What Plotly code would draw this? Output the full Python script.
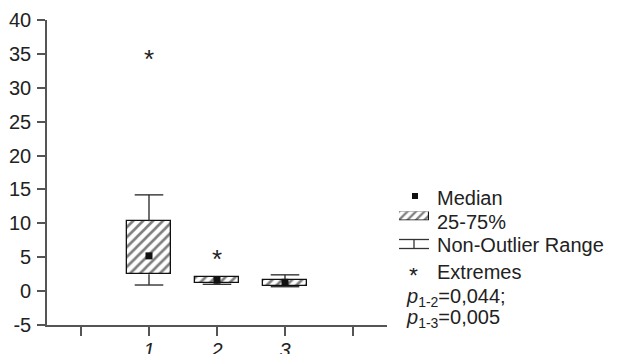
import plotly.graph_objects as go

groups = [1, 2, 3]
group_labels = ["1", "2", "3"]
q1 = [2.5, 1.15, 0.75]
median = [5.2, 1.6, 1.3]
q3 = [10.3, 2.1, 1.65]
low_w = [0.9, 1.0, 0.65]
high_w = [14.2, 2.1, 2.4]
extreme_x = [1, 2]
extreme_y = [34.8, 5.3]
yticks = [-5, 0, 5, 10, 15, 20, 25, 30, 35, 40]
ytick_text = ["-5", "0", "5", "10", "15", "20", "25", "30", "35", "40"]
edge_ticks = [0, 4]

W, H = 618, 354
L, R, T, B = 47, 0, 20, 29
PW, PH = W - L - R, H - T - B
AXIS_END = 387

def px(x):
    return (x - L) / PW

def py(y):
    return (H - B - y) / PH

FAM = "Liberation Sans, Arial, sans-serif"
font = dict(family=FAM, size=20, color="#222")
star_font = dict(family=FAM, size=26, color="#222")

fig = go.Figure()

# boxes (25-75%)
fig.add_trace(go.Bar(
    x=groups, y=[b - a for a, b in zip(q1, q3)], base=q1, width=0.66,
    marker=dict(color="white", line=dict(color="#111", width=1.3),
                pattern=dict(shape="/", fgcolor="#000", bgcolor="white", size=7, solidity=0.38)),
    showlegend=False, hoverinfo="skip"))

# whiskers
cap = 0.21
wx, wy = [], []
for g, a, b, lo, hi in zip(groups, q1, q3, low_w, high_w):
    if hi > b:
        wx += [g, g, None, g - cap, g + cap, None]
        wy += [b, hi, None, hi, hi, None]
    if lo < a:
        wx += [g, g, None, g - cap, g + cap, None]
        wy += [a, lo, None, lo, lo, None]
fig.add_trace(go.Scatter(x=wx, y=wy, mode="lines", line=dict(color="#333", width=1.4),
                         showlegend=False, hoverinfo="skip"))

# medians
fig.add_trace(go.Scatter(x=groups, y=median, mode="markers",
                         marker=dict(symbol="square", size=7, color="#111"),
                         showlegend=False, hoverinfo="skip"))

ann = []
# extremes
for ex, ey in zip(extreme_x, extreme_y):
    ann.append(dict(x=ex, y=ey, xref="x", yref="y", text="*", showarrow=False,
                    xanchor="center", yanchor="middle", yshift=-4, height=18,
                    font=star_font))

fig.update_layout(
    width=W, height=H, margin=dict(l=L, r=R, t=T, b=B),
    plot_bgcolor="white", paper_bgcolor="white", font=font, bargap=0,
    xaxis=dict(domain=[0, px(AXIS_END)], range=[-0.5, 4.5], tickvals=groups,
               ticktext=["<i>%s</i>" % t for t in group_labels],
               showgrid=False, zeroline=False, showline=True, linecolor="#555", linewidth=1.6,
               ticks="outside", ticklen=9, tickcolor="#555", tickwidth=1.5,
               minor=dict(tickvals=edge_ticks, ticks="outside", ticklen=9, tickcolor="#555",
                          tickwidth=1.5, showgrid=False),
               ticklabelstandoff=-3, automargin=False, fixedrange=True),
    yaxis=dict(range=[-5, 40], tickvals=yticks, ticktext=ytick_text, showgrid=False,
               zeroline=False, showline=True, linecolor="#555", linewidth=1.6,
               ticks="outside", ticklen=8, tickcolor="#555", tickwidth=1.5,
               ticklabelstandoff=2, automargin=False, fixedrange=True),
)

# custom legend
shapes = []
shapes.append(dict(type="rect", xref="paper", yref="paper",
                   x0=px(412), x1=px(418), y0=py(199), y1=py(193),
                   fillcolor="#111", line=dict(width=0)))
# hatched box symbol on its own small axes
fig.add_trace(go.Bar(
    x=[0.5], y=[1], base=[0], width=1, xaxis="x2", yaxis="y2",
    marker=dict(color="white", line=dict(color="#111", width=1.1),
                pattern=dict(shape="/", fgcolor="#000", bgcolor="white", size=6, solidity=0.38)),
    showlegend=False, hoverinfo="skip"))
fig.update_layout(
    xaxis2=dict(domain=[px(399), px(429)], range=[0, 1], anchor="y2", visible=False, fixedrange=True),
    yaxis2=dict(domain=[py(220.5), py(211.5)], range=[0, 1], anchor="x2", visible=False, fixedrange=True),
)
# non-outlier symbol
shapes += [
    dict(type="line", xref="paper", yref="paper", x0=px(399), x1=px(429), y0=py(239.5), y1=py(239.5),
         line=dict(color="#333", width=1.3)),
    dict(type="line", xref="paper", yref="paper", x0=px(399), x1=px(429), y0=py(248.5), y1=py(248.5),
         line=dict(color="#333", width=1.3)),
    dict(type="line", xref="paper", yref="paper", x0=px(414), x1=px(414), y0=py(239.5), y1=py(248.5),
         line=dict(color="#333", width=1.3)),
]
labels = [("Median", 198), ("25-75%", 221.5), ("Non-Outlier Range", 245), ("Extremes", 271.5)]
for txt, y in labels:
    ann.append(dict(x=px(437), y=py(y), xref="paper", yref="paper", text=txt, showarrow=False,
                    xanchor="left", yanchor="middle", xshift=-2, font=font))
ann.append(dict(x=px(413), y=py(273), xref="paper", yref="paper", text="*", showarrow=False,
                xanchor="center", yanchor="middle", yshift=-3, height=16,
                font=dict(family=FAM, size=23, color="#222")))
ann.append(dict(x=px(406), y=py(297), xref="paper", yref="paper",
                text="<i>p</i><sub>1-2</sub>=0,044;", showarrow=False,
                xanchor="left", yanchor="middle", xshift=-2, font=font))
ann.append(dict(x=px(406), y=py(318.5), xref="paper", yref="paper",
                text="<i>p</i><sub>1-3</sub>=0,005", showarrow=False,
                xanchor="left", yanchor="middle", xshift=-2, font=font))

fig.update_layout(shapes=shapes, annotations=ann)

fig.write_html("out.html")
